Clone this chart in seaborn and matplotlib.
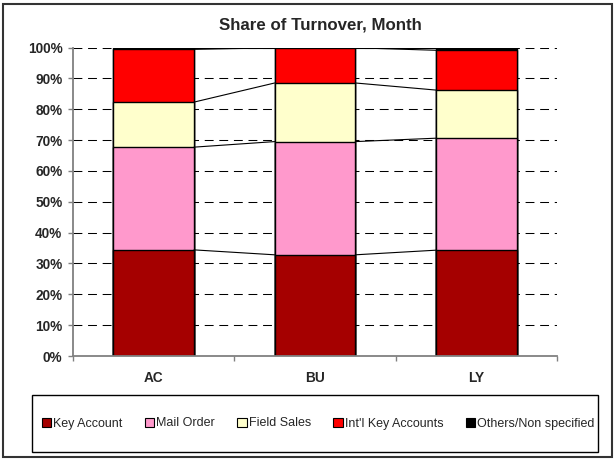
import matplotlib
matplotlib.use("Agg")
import matplotlib.pyplot as plt
from matplotlib.patches import Rectangle, Patch
import seaborn as sns
import pandas as pd
import numpy as np

# ---- data ----
categories = ["AC", "BU", "LY"]
series_names = ["Key Account", "Mail Order", "Field Sales", "Int'l Key Accounts", "Others/Non specified"]
key_account = [34.4, 32.8, 34.3]
mail_order = [33.3, 36.7, 36.3]
field_sales = [14.6, 19.0, 15.6]
intl_key_accounts = [17.1, 11.4, 12.9]
others = [0.6, 0.1, 0.9]
colors = ["#A50000", "#FF99CC", "#FFFFCC", "#FF0000", "#000000"]
ytick_labels = ["0%", "10%", "20%", "30%", "40%", "50%", "60%", "70%", "80%", "90%", "100%"]

sns.set_style("white")
plt.rcParams["font.family"] = ["Liberation Sans", "DejaVu Sans"]

W, H = 615, 459
fig = plt.figure(figsize=(W / 100, H / 100), dpi=100)

def fx(px):
    return px / W

def fy(py):
    return 1 - py / H

ax = fig.add_axes([fx(73), fy(356), fx(557) - fx(73), fy(47.5) - fy(356)])

layers = [key_account, mail_order, field_sales, intl_key_accounts, others]
cum = np.cumsum(np.array(layers), axis=0)

# gridlines (behind bars)
ax.set_axisbelow(True)
for v in range(10, 101, 10):
    ax.axhline(v, color="black", lw=0.75, dashes=(8.5, 5.5), zorder=0)

# stacked bars drawn as cumulative layers, top first
for i in range(len(layers) - 1, -1, -1):
    df = pd.DataFrame({"cat": categories, "val": cum[i]})
    sns.barplot(data=df, x="cat", y="val", color=colors[i], width=0.5,
                edgecolor="black", linewidth=1.0, errorbar=None, ax=ax,
                saturation=1, zorder=2)

# series lines between bars
for i in range(len(layers)):
    for j in range(len(categories) - 1):
        ax.plot([j + 0.25, j + 0.75], [cum[i][j], cum[i][j + 1]],
                color="black", lw=0.8, zorder=3)

ax.set_xlim(-0.5, 2.5)
ax.set_ylim(0, 100)
ax.set_xlabel("")
ax.set_ylabel("")

ax.set_yticks(np.arange(0, 101, 10))
ax.set_yticklabels(ytick_labels, fontsize=9.8, fontweight="bold")
ax.tick_params(axis="y", which="major", direction="out", length=3.6, width=1,
               color="#808080", pad=4.0, left=True)
ax.set_xticks([0, 1, 2])
ax.set_xticklabels(categories, fontsize=9.8, fontweight="bold")
ax.tick_params(axis="x", which="major", length=0, pad=11, bottom=True)
ax.set_xticks([-0.5, 0.5, 1.5, 2.5], minor=True)
ax.tick_params(axis="x", which="minor", direction="out", length=3.6, width=1,
               color="#808080", bottom=True)

for s in ["top", "right"]:
    ax.spines[s].set_visible(False)
for s in ["left", "bottom"]:
    ax.spines[s].set_color("#808080")
    ax.spines[s].set_linewidth(1.3)
    ax.spines[s].set_zorder(4)

# title
fig.text(fx(320), fy(25), "Share of Turnover, Month", ha="center", va="center",
         fontsize=12.2, fontweight="bold")

# legend box + legend
fig.patches.append(Rectangle((fx(32), fy(452)), fx(598) - fx(32), fy(395) - fy(452),
                             transform=fig.transFigure, fill=False,
                             edgecolor="black", lw=1.0))
handles = [Patch(facecolor=c, edgecolor="black", lw=0.8) for c in colors]
fig.legend(handles, series_names, loc="center", bbox_to_anchor=(fx(318), fy(423.5)),
           ncol=5, frameon=False, fontsize=9, handlelength=0.75, handleheight=0.75,
           handletextpad=0.15, columnspacing=1.8, borderpad=0)

# outer frame
fig.patches.append(Rectangle((fx(3), fy(457)), fx(612) - fx(3), fy(4) - fy(457),
                             transform=fig.transFigure, fill=False,
                             edgecolor="#333333", lw=1.5))

fig.savefig("out.png", dpi=100)
